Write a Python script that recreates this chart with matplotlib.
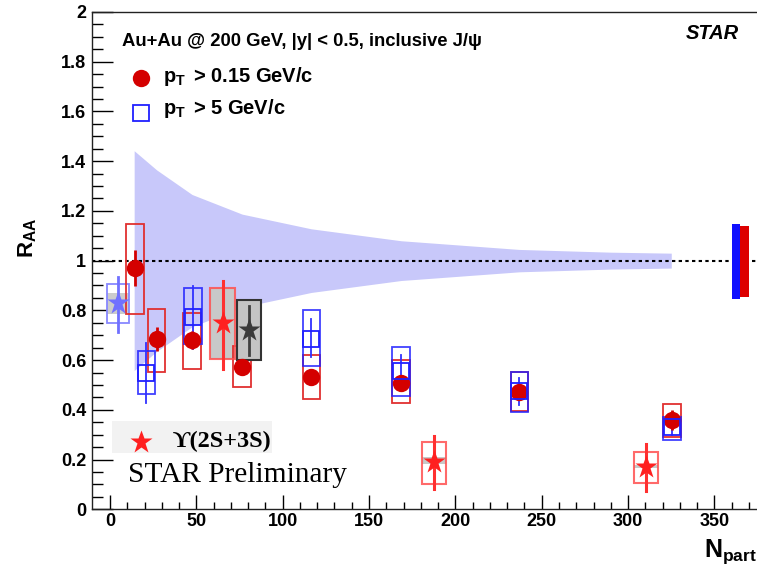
import matplotlib
matplotlib.use('Agg')
import matplotlib.pyplot as plt
from matplotlib.patches import Rectangle
import numpy as np

plt.rcParams['font.family'] = ['Liberation Sans', 'DejaVu Sans']
plt.rcParams['font.weight'] = 'bold'
plt.rcParams['mathtext.fontset'] = 'custom'
plt.rcParams['mathtext.rm'] = 'Liberation Sans:bold'
plt.rcParams['mathtext.it'] = 'Liberation Sans:bold'
plt.rcParams['mathtext.bf'] = 'Liberation Sans:bold'

# J/psi, pT > 0.15 GeV/c
npart_all = [14.5, 27, 47.5, 76.5, 116.5, 168.5, 237, 325.5]
raa_all = [0.970, 0.684, 0.680, 0.573, 0.533, 0.509, 0.473, 0.359]
stat_all = [0.073, 0.048, 0.035, 0.030, 0.030, 0.030, 0.030, 0.040]
sys_all_lo = [0.785, 0.552, 0.563, 0.491, 0.445, 0.429, 0.396, 0.290]
sys_all_hi = [1.147, 0.807, 0.788, 0.655, 0.620, 0.600, 0.553, 0.423]

# J/psi, pT > 5 GeV/c
npart_hpt = [21, 48, 116.5, 168.5, 237, 325.5]
raa_hpt = [0.548, 0.773, 0.686, 0.557, 0.474, 0.330]
stat_hpt_lo = [0.429, 0.645, 0.614, 0.493, 0.419, 0.300]
stat_hpt_hi = [0.669, 0.898, 0.764, 0.620, 0.527, 0.360]
sys_hpt_lo = [0.464, 0.665, 0.576, 0.457, 0.392, 0.279]
sys_hpt_hi = [0.635, 0.890, 0.801, 0.654, 0.553, 0.370]

# Upsilon(2S+3S)
npart_ups = [65.2, 187.6, 310.2]
raa_ups = [0.748, 0.191, 0.171]
stat_ups_lo = [0.563, 0.080, 0.074]
stat_ups_hi = [0.919, 0.295, 0.261]
sys_ups_lo = [0.603, 0.101, 0.105]
sys_ups_hi = [0.890, 0.272, 0.229]
grey_ups_lo = [0.603, 0.182, 0.165]
grey_ups_hi = [0.890, 0.211, 0.178]

# extra star points
npart_blu = [4.8]
raa_blu = [0.828]
stat_blu = [(0.714, 0.935)]
grey_blu = [(0.785, 0.871)]
box_blu = [(0.750, 0.906)]
npart_blk = [80.5]
raa_blk = [0.721]
stat_blk = [(0.620, 0.819)]
box_blk = [(0.600, 0.842)]

# Ncoll uncertainty band
npart_band = [14, 27, 47.5, 76.5, 116.5, 168.5, 237, 290, 325]
half_band = [0.442, 0.365, 0.266, 0.187, 0.128, 0.080, 0.045, 0.034, 0.030]

# global uncertainties
glob_x = [362.4, 367.3]
glob_w = [4.8, 5.2]
glob_lo = [0.846, 0.854]
glob_hi = [1.147, 1.140]
glob_col = ['#1010ff', '#dd0000']

red = '#d40000'

fig = plt.figure(figsize=(7.57, 5.73), dpi=100)
ax = fig.add_axes([0.1211, 0.1112, 0.8911, 0.8679])
ax.set_xlim(-10.6, 380)
ax.set_ylim(0, 2)

nb = np.array(npart_band)
hb = np.array(half_band)
ax.fill_between(nb, 1 - hb, 1 + hb, color='#c8c8fa', lw=0, zorder=1)
ax.axhline(1, color='black', lw=1.5, ls=(0, (1.6, 1.6)), zorder=2)

# global bars
ax.bar(glob_x, np.array(glob_hi) - np.array(glob_lo), width=glob_w,
       bottom=glob_lo, color=glob_col, lw=0, zorder=3)

# blue-violet star
for x, y, s, g, b in zip(npart_blu, raa_blu, stat_blu, grey_blu, box_blu):
    ax.bar(x, g[1] - g[0], width=13, bottom=g[0], color='#cccccc', lw=0, zorder=3)
    ax.bar(x, b[1] - b[0], width=13, bottom=b[0], fill=False,
           edgecolor='#8888ff', lw=1.3, zorder=4)
    ax.plot([x, x], s, color='#7070ff', lw=2, zorder=5)
    ax.plot(x, y, marker='*', ms=17, color='#7070ff', mec='none', zorder=6)

# pT > 0.15 red boxes
lo = np.array(sys_all_lo)
hi = np.array(sys_all_hi)
ax.bar(npart_all, hi - lo, width=10, bottom=lo, fill=False,
       edgecolor='#e03030', lw=1.3, zorder=4)

# pT > 5 blue boxes
lo = np.array(sys_hpt_lo)
hi = np.array(sys_hpt_hi)
ax.bar(npart_hpt, hi - lo, width=10, bottom=lo, fill=False,
       edgecolor='#2020ff', lw=1.3, zorder=4, alpha=0.85)
for x, a, b in zip(npart_hpt, stat_hpt_lo, stat_hpt_hi):
    ax.plot([x, x], [a, b], color='#3030ff', lw=1.3, zorder=5)

# upsilon boxes
lo = np.array(grey_ups_lo)
hi = np.array(grey_ups_hi)
ax.bar(npart_ups, hi - lo, width=14, bottom=lo, color='#c8c8c8', lw=0, zorder=3)
lo = np.array(sys_ups_lo)
hi = np.array(sys_ups_hi)
ax.bar(npart_ups, hi - lo, width=14, bottom=lo, fill=False,
       edgecolor='#ff5050', lw=1.5, zorder=4, alpha=0.85)

# black star
for x, y, s, b in zip(npart_blk, raa_blk, stat_blk, box_blk):
    ax.bar(x, b[1] - b[0], width=14, bottom=b[0], color='#c4c4c4',
           edgecolor='#333333', lw=1.5, zorder=4)
    ax.plot([x, x], s, color='#404040', lw=2, zorder=5)
    ax.plot(x, y, marker='*', ms=17, color='#3a3a3a', mec='none', zorder=6)

# red circles
ax.errorbar(npart_all, raa_all, yerr=stat_all, fmt='o', ms=12.5, color=red,
            mec='none', elinewidth=2, capsize=0, zorder=6)

# blue open squares
ax.plot(npart_hpt, raa_hpt, 's', ms=11.5, mfc='none', mec='#2020ff',
        mew=1.3, zorder=7)

# upsilon stars
for x, a, b in zip(npart_ups, stat_ups_lo, stat_ups_hi):
    ax.plot([x, x], [a, b], color='#ff3030', lw=2.2, zorder=6)
ax.plot(npart_ups, raa_ups, '*', ms=17, color='#ff2020', mec='none', zorder=7)

# axes styling
ax.spines['right'].set_visible(False)
for side in ['left', 'bottom', 'top']:
    ax.spines[side].set_linewidth(1.0)
    ax.spines[side].set_color('#222222')

ax.set_xticks(np.arange(0, 351, 50))
ax.set_xticks(np.arange(0, 381, 10), minor=True)
ax.set_yticks(np.arange(0, 2.01, 0.2))
ax.set_yticks(np.arange(0, 2.01, 0.05), minor=True)
ax.set_yticklabels(['0', '0.2', '0.4', '0.6', '0.8', '1', '1.2', '1.4', '1.6', '1.8', '2'])
ax.tick_params(axis='x', which='major', direction='in', length=10, width=1,
               labelsize=13, pad=3)
ax.tick_params(axis='x', which='minor', direction='in', length=5, width=1)
ax.tick_params(axis='y', which='major', direction='in', length=15, width=1,
               labelsize=13, pad=4)
ax.tick_params(axis='y', which='minor', direction='in', length=8, width=1)
for lab in ax.get_xticklabels() + ax.get_yticklabels():
    lab.set_fontweight('bold')

# axis titles
fig.text(0.036, 0.585, r'$R_{AA}$', rotation=90, ha='center', va='center',
         fontsize=16)
fig.text(0.9995, 0.037, r'$N_{part}$', ha='right', va='center', fontsize=18)

# legend / labels
fig.text(0.1608, 0.9272, 'Au+Au @ 200 GeV, |y| < 0.5, inclusive J/ψ',
         fontsize=13.3, fontweight='bold', va='center')
fig.text(0.9766, 0.9419, 'STAR', fontsize=14.5, fontweight='bold',
         fontstyle='italic', ha='right', va='center')
ax.plot([0.1859], [0.8634], 'o', ms=12.5, color=red, mec='none',
        transform=fig.transFigure, clip_on=False)
fig.text(0.2157, 0.8661, r'$p_{T}\,$ > 0.15 GeV/c', fontsize=14.5, va='center')
ax.plot([0.1859], [0.8033], 's', ms=11.5, mfc='none', mec='#2020ff', mew=1.3,
        transform=fig.transFigure, clip_on=False)
fig.text(0.2157, 0.8098, r'$p_{T}\,$ > 5 GeV/c', fontsize=14.5, va='center')

ax.add_patch(Rectangle((0.1476, 0.2089), 0.2114, 0.0569,
                       transform=fig.transFigure, color='#f2f2f2',
                       lw=0, zorder=0.5))
ax.plot([0.1859], [0.2291], '*', ms=17, color='#ff2020', mec='none',
        transform=fig.transFigure, clip_on=False, zorder=8)
fig.text(0.2281, 0.2291, 'ϒ(2S+3S)', fontsize=17.5, fontweight='bold',
         family=['Liberation Serif', 'DejaVu Serif'], va='center')
fig.text(0.1695, 0.171, 'STAR Preliminary', fontsize=21.2, fontweight='normal',
         family=['Liberation Serif', 'DejaVu Serif'], va='center')

fig.savefig('out.png', dpi=100)
